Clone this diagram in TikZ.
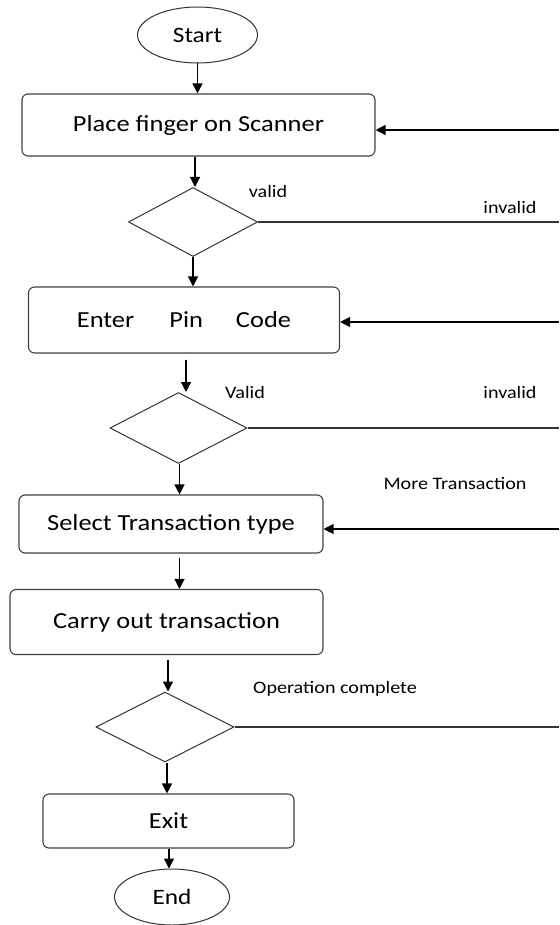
\documentclass[tikz,border=0pt]{standalone}
\usepackage{fontspec}
\setmainfont{Carlito}[FakeStretch=1.15]
\usetikzlibrary{shapes.geometric,arrows.meta}
\tikzset{
  boxnode/.style={draw=black!75, line width=1.1pt, rounded corners=6pt, inner sep=0pt, font=\fontsize{23}{26}\selectfont},
  termnode/.style={draw=black!80, line width=1pt, ellipse, inner sep=0pt, font=\fontsize{22}{25}\selectfont},
  decnode/.style={draw=black!80, line width=1pt, diamond, inner sep=0pt},
  lbl/.style={font=\fontsize{17.5}{20}\selectfont, inner sep=0pt},
  arr/.style={draw=black, line width=1.2pt, -{Triangle[length=10pt,width=10pt]}},
  ln/.style={draw=black!80, line width=1.2pt}
}
\begin{document}
\begin{tikzpicture}[x=1pt,y=-1pt]
\useasboundingbox (0,0) rectangle (559,925);
% nodes
\node[termnode, minimum width=120pt, minimum height=56pt] (start) at (197.5,35) {Start};
\node[boxnode, minimum width=353pt, minimum height=62pt] (b1) at (198.5,125) {Place finger on Scanner};
\node[decnode, minimum width=129pt, minimum height=69pt] (d1) at (193,222) {};
\node[boxnode, minimum width=311pt, minimum height=66pt] (b2) at (184,320) {Enter\hspace{35pt}Pin\hspace{33pt}Code};
\node[decnode, minimum width=137pt, minimum height=71pt] (d2) at (178.5,428) {};
\node[boxnode, minimum width=304pt, minimum height=58pt] (b3) at (171,524) {Select Transaction type};
\node[boxnode, minimum width=313pt, minimum height=65pt] (b4) at (166.5,622) {Carry out transaction};
\node[decnode, minimum width=138pt, minimum height=70pt] (d3) at (165,727) {};
\node[boxnode, minimum width=251pt, minimum height=54pt] (b5) at (168.5,821) {Exit};
\node[termnode, minimum width=115pt, minimum height=56pt] (end) at (172,897) {End};
% labels
\node[lbl] (l1) at (268,191) {valid};
\node[lbl] (l2) at (510,207) {invalid};
\node[lbl] (l3) at (245,392) {Valid};
\node[lbl] (l4) at (510,392) {invalid};
\node[lbl] (l5) at (455,484) {More Transaction};
\node[lbl] (l6) at (335,689) {Operation complete};
% right edge coordinates
\coordinate (r1) at (559,130);
\coordinate (r2) at (559,322);
\coordinate (r3) at (559,529);
\coordinate (e1) at (559,222);
\coordinate (e2) at (559,428);
\coordinate (e3) at (559,727);
% vertical arrows
\draw[arr] (start.south -| b1.north) ++(-1,0) coordinate (s0) -- (s0 |- b1.north);
\draw[arr] (b1.south -| d1.north) ++(2,0) coordinate (s1) -- (s1 |- d1.north);
\draw[arr] (d1.south) -- (d1.south |- b2.north);
\draw[arr] (b2.south) ++(2,6) coordinate (s2) -- (s2 |- d2.north);
\draw[arr] (d2.south) ++(1,0) coordinate (s3) -- (s3 |- b3.north);
\draw[arr] (b3.south -| d2.south) ++(1,4) coordinate (s4) -- (s4 |- b4.north);
\draw[arr] (b4.south -| d3.north) ++(3,5) coordinate (s5) -- (s5 |- d3.north);
\draw[arr] (d3.south) ++(2,0) coordinate (s6) -- (s6 |- b5.north);
\draw[arr] (b5.south -| end.north) ++(-3,0) coordinate (s7) -- (s7 |- end.north);
% right feedback arrows
\draw[arr] (r1) -- (r1 -| b1.east);
\draw[arr] (r2) -- (r2 -| b2.east);
\draw[arr] (r3) -- (r3 -| b3.east);
% decision exits
\draw[ln] (d1.east) -- (e1);
\draw[ln] (d2.east) -- (e2);
\draw[ln] (d3.east) -- (e3);
\end{tikzpicture}
\end{document}
